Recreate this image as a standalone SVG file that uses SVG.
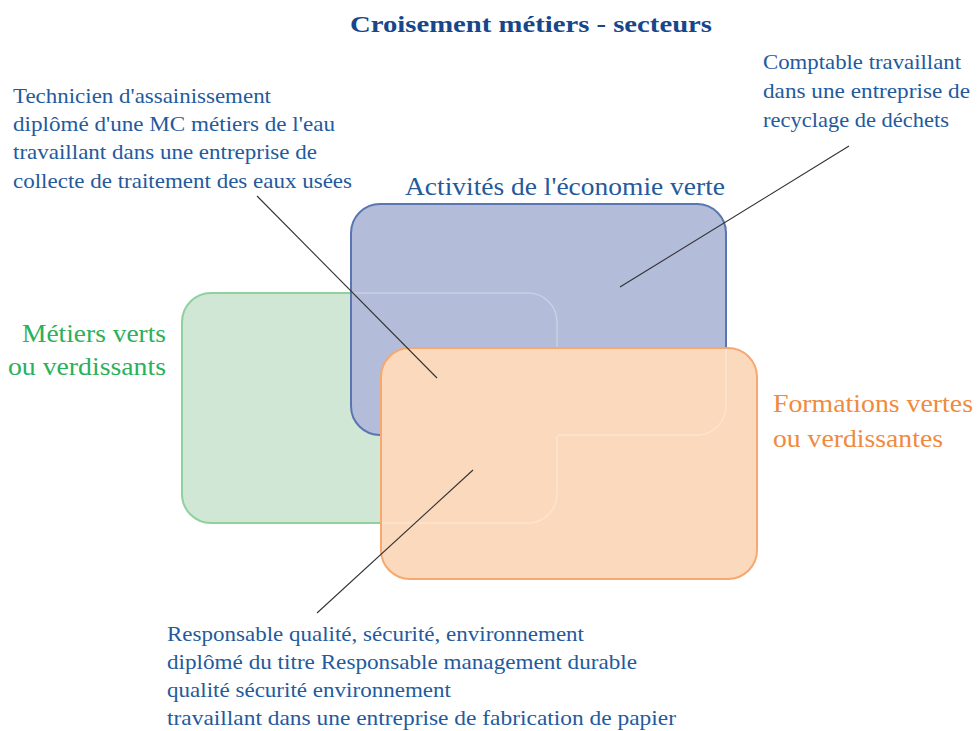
<svg xmlns="http://www.w3.org/2000/svg" width="978" height="731" viewBox="0 0 978 731">
<style>
text{font-family:"Liberation Serif","DejaVu Serif","Times New Roman",serif;}
.title{font-size:24px;font-weight:bold;fill:#17478a;}
.body{font-size:21px;fill:#245a9c;}
.lbl{font-size:26px;}
.blue{fill:#245a9c;}
.green{fill:#2bb05b;}
.orange{fill:#f08a3e;}
.faint{fill:none;stroke:#ffffff;stroke-opacity:0.3;stroke-width:1.5;}
.conn{stroke:#333333;stroke-width:1.1;fill:none;}
</style>
<rect width="978" height="731" fill="#ffffff"/>
<g id="title">
<text class="title" font-family="Liberation Serif, DejaVu Serif, serif" x="350" y="32" textLength="362" lengthAdjust="spacingAndGlyphs">Croisement métiers - secteurs</text>
</g>
<g id="metiers-verts">
<rect x="182" y="293" width="375" height="230" rx="29" ry="29" fill="#d0e7d5" stroke="#8fd09f" stroke-width="2"/>
<text class="lbl green" font-family="Liberation Serif, DejaVu Serif, serif" x="22" y="342" textLength="144" lengthAdjust="spacingAndGlyphs">Métiers verts</text>
<text class="lbl green" font-family="Liberation Serif, DejaVu Serif, serif" x="8" y="375" textLength="158" lengthAdjust="spacingAndGlyphs">ou verdissants</text>
</g>
<g id="economie-verte">
<rect x="351" y="204" width="375" height="231" rx="29" ry="29" fill="#b3bcd9" stroke="#5a76b1" stroke-width="2"/>
<text class="lbl blue" font-family="Liberation Serif, DejaVu Serif, serif" x="405" y="195" textLength="320" lengthAdjust="spacingAndGlyphs">Activités de l'économie verte</text>
</g>
<g id="formations-vertes">
<rect x="381" y="348" width="376" height="231" rx="29" ry="29" fill="#fbd9bc" stroke="#f6a86e" stroke-width="2"/>
<text class="lbl orange" font-family="Liberation Serif, DejaVu Serif, serif" x="773" y="412" textLength="200" lengthAdjust="spacingAndGlyphs">Formations vertes</text>
<text class="lbl orange" font-family="Liberation Serif, DejaVu Serif, serif" x="773" y="447" textLength="170" lengthAdjust="spacingAndGlyphs">ou verdissantes</text>
</g>
<g id="hidden-edges">
<path class="faint" d="M352,293 H528 A29,29 0 0 1 557,322 V347"/>
<path class="faint" d="M557,436 V494 A29,29 0 0 1 528,523 H382"/>
<path class="faint" d="M726,349 V406 A29,29 0 0 1 697,435 H558"/>
</g>
<g id="technicien" font-family="Liberation Serif, DejaVu Serif, serif">
<text class="body" x="13" y="103" textLength="258" lengthAdjust="spacingAndGlyphs">Technicien d'assainissement</text>
<text class="body" x="13" y="131" textLength="322" lengthAdjust="spacingAndGlyphs">diplômé d'une MC métiers de l'eau</text>
<text class="body" x="13" y="159" textLength="304" lengthAdjust="spacingAndGlyphs">travaillant dans une entreprise de</text>
<text class="body" x="13" y="188" textLength="339" lengthAdjust="spacingAndGlyphs">collecte de traitement des eaux usées</text>
</g>
<g id="comptable" font-family="Liberation Serif, DejaVu Serif, serif">
<text class="body" x="763" y="69" textLength="198" lengthAdjust="spacingAndGlyphs">Comptable travaillant</text>
<text class="body" x="763" y="98" textLength="207" lengthAdjust="spacingAndGlyphs">dans une entreprise de</text>
<text class="body" x="763" y="127" textLength="186" lengthAdjust="spacingAndGlyphs">recyclage de déchets</text>
</g>
<g id="responsable" font-family="Liberation Serif, DejaVu Serif, serif">
<text class="body" x="167" y="641" textLength="417" lengthAdjust="spacingAndGlyphs">Responsable qualité, sécurité, environnement</text>
<text class="body" x="167" y="669" textLength="470" lengthAdjust="spacingAndGlyphs">diplômé du titre Responsable management durable</text>
<text class="body" x="167" y="697" textLength="284" lengthAdjust="spacingAndGlyphs">qualité sécurité environnement</text>
<text class="body" x="167" y="725" textLength="509" lengthAdjust="spacingAndGlyphs">travaillant dans une entreprise de fabrication de papier</text>
</g>
<g id="connectors">
<line class="conn" x1="257" y1="196" x2="437" y2="378"/>
<line class="conn" x1="849" y1="146" x2="620" y2="287"/>
<line class="conn" x1="473" y1="470" x2="317" y2="613"/>
</g>
</svg>
